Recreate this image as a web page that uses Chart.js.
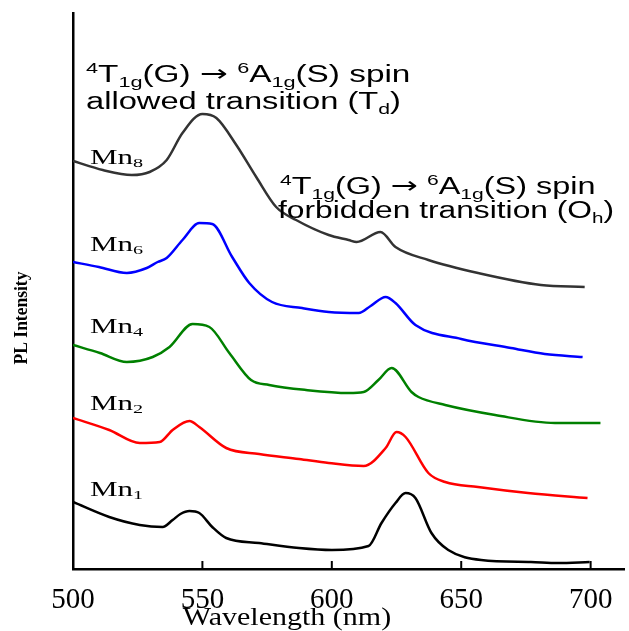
<!DOCTYPE html>
<html>
<head>
<meta charset="utf-8">
<script src="https://cdn.jsdelivr.net/npm/chart.js@4.4.1/dist/chart.umd.min.js"></script>
<style>
  html, body { margin: 0; padding: 0; background: #fff; }
</style>
</head>
<body>
<canvas id="chart" width="629" height="631"></canvas>
<script>
// wavelength (nm) and PL intensity (a.u., curves offset vertically)
const mn1Wl  = [500, 514, 525.8, 534.6, 538.5, 541.5, 545, 548.8, 553.8, 559.2, 571.9, 587.3, 600, 614.2, 619.2, 624.6, 628.5, 632.3, 638.5, 645, 657.7, 676.9, 687.3, 699.6];
const mn1Int = [67, 52, 44, 42, 49, 55, 58, 56, 42, 31, 26, 21, 19, 23, 46, 66, 76, 71, 36, 19, 9, 7, 6, 7];

const mn2Wl  = [500, 514, 525.8, 533.5, 538.5, 545, 548.8, 559.2, 571.9, 587.3, 598.8, 612.3, 620.8, 625, 628.5, 637.3, 643.8, 656.5, 675.8, 698.8];
const mn2Int = [151, 139, 126, 127, 139, 148, 142, 121, 115, 110, 106, 103, 121, 137, 132, 96, 87, 82, 76, 71];

const mn4Wl  = [500, 510.4, 520.8, 530.8, 537.3, 546.2, 552.7, 560.4, 568.8, 575.8, 590, 606.5, 612.3, 618, 623.1, 630.8, 633.5, 643.8, 663.1, 686.2, 703.8];
const mn4Int = [224, 216, 207, 212, 222, 245, 242, 216, 189, 184, 179, 176, 177, 189, 201, 177, 172, 164, 154, 146, 146];

const mn6Wl  = [500, 510, 520.8, 528.5, 532.7, 536.2, 542.3, 548.8, 553.8, 561.5, 568.1, 576.9, 588.5, 598.8, 610.4, 615, 620.8, 624.6, 632.3, 650, 669.2, 682.3, 696.9];
const mn6Int = [307, 302, 296, 301, 307, 311, 329, 346, 345, 312, 286, 267, 261, 257, 256, 263, 272, 266, 244, 230, 221, 215, 212];

const mn8Wl  = [500, 511.5, 522.7, 529.6, 536.2, 542.3, 550, 555.4, 563.1, 570.8, 578.5, 586.2, 598.8, 606.5, 609.6, 618.8, 624.6, 637.3, 656.5, 680.8, 697.7];
const mn8Int = [408, 399, 394, 397, 409, 436, 455, 451, 424, 392, 362, 349, 334, 329, 327, 337, 322, 309, 296, 284, 282];

const xTicks = [500, 550, 600, 650, 700];

// curve labels: [name, subscript, baseline value on the y scale]
const curveLabels = [
  ["Mn", "8", 405],
  ["Mn", "6", 318],
  ["Mn", "4", 236],
  ["Mn", "2", 159],
  ["Mn", "1", 73]
];

function pts(wl, val) {
  return wl.map((w, i) => ({ x: w, y: val[i] }));
}

function line(label, wl, val, color) {
  return {
    label: label,
    data: pts(wl, val),
    borderColor: color,
    borderWidth: 2.5,
    pointRadius: 0,
    fill: false,
    cubicInterpolationMode: "monotone"
  };
}

// draw a run of text pieces: n = normal, sup / sub = small raised / lowered, arrow = wider arrow glyph
function rich(ctx, x, y, parts, size, sx, family, subDy) {
  ctx.save();
  ctx.translate(x, y);
  ctx.scale(sx, 1);
  ctx.textBaseline = "alphabetic";
  ctx.textAlign = "left";
  let cx = 0;
  parts.forEach(p => {
    let s = size, dy = 0, fam = family;
    if (p[1] === "sup") { s = size * 0.65; dy = -size * 0.38; }
    if (p[1] === "sub") { s = size * 0.65; dy = subDy; }
    if (p[1] === "arrow") { fam = '"DejaVu Sans"'; dy = -1; }
    ctx.font = s + "px " + fam;
    ctx.fillText(p[0], cx, dy);
    cx += ctx.measureText(p[0]).width;
  });
  ctx.restore();
}

const extras = {
  id: "extras",
  afterDraw(chart) {
    const ctx = chart.ctx;
    const x = chart.scales.x, y = chart.scales.y;
    ctx.save();
    ctx.fillStyle = "#000";
    ctx.strokeStyle = "#000";

    // inward tick marks
    ctx.lineWidth = 2;
    xTicks.forEach(v => {
      const px = x.getPixelForValue(v);
      ctx.beginPath();
      ctx.moveTo(px, y.bottom);
      ctx.lineTo(px, y.bottom - 8);
      ctx.stroke();
    });

    // axis titles
    ctx.textAlign = "center";
    ctx.textBaseline = "middle";
    ctx.save();
    ctx.translate(287, 618);
    ctx.scale(1.2, 1);
    ctx.font = '25px "Liberation Serif"';
    ctx.fillText("Wavelength (nm)", 0, 0);
    ctx.restore();

    ctx.save();
    ctx.translate(22, 318);
    ctx.rotate(-Math.PI / 2);
    ctx.scale(0.92, 1);
    ctx.font = 'bold 19px "Liberation Serif"';
    ctx.fillText("PL Intensity", 0, 0);
    ctx.restore();

    // sample labels
    const serif = '"Liberation Serif"';
    curveLabels.forEach(l => {
      const py = y.getPixelForValue(l[2]);
      rich(ctx, 90, py, [[l[0], "n"], [l[1], "sub"]], 20, 1.55, serif, 2.5);
    });

    // transition annotations
    const sans = '"Liberation Sans"';
    const head = [["4", "sup"], ["T", "n"], ["1g", "sub"], ["(G) ", "n"], ["\u2192", "arrow"], [" ", "n"], ["6", "sup"], ["A", "n"], ["1g", "sub"], ["(S) spin", "n"]];
    rich(ctx, 86, 82, head, 23, 1.45, sans, 5);
    rich(ctx, 86, 109, [["allowed transition (T", "n"], ["d", "sub"], [")", "n"]], 23, 1.42, sans, 5);
    rich(ctx, 280, 194, head, 23, 1.41, sans, 5);
    rich(ctx, 278, 218, [["forbidden transition (O", "n"], ["h", "sub"], [")", "n"]], 23, 1.38, sans, 5);

    ctx.restore();
  }
};

new Chart(document.getElementById("chart").getContext("2d"), {
  type: "line",
  data: {
    datasets: [
      line("Mn1", mn1Wl, mn1Int, "#000000"),
      line("Mn2", mn2Wl, mn2Int, "#ff0000"),
      line("Mn4", mn4Wl, mn4Int, "#008000"),
      line("Mn6", mn6Wl, mn6Int, "#0000ff"),
      line("Mn8", mn8Wl, mn8Int, "#333333")
    ]
  },
  options: {
    responsive: false,
    animation: false,
    layout: { padding: { left: 73, top: 13, right: 2, bottom: 0 } },
    plugins: { legend: { display: false }, tooltip: { enabled: false } },
    scales: {
      x: {
        type: "linear",
        min: 500,
        max: 713,
        afterBuildTicks: s => { s.ticks = xTicks.map(v => ({ value: v })); },
        ticks: {
          color: "#000",
          padding: 16.5,
          font: { family: "Liberation Serif", size: 29, lineHeight: 1 }
        },
        grid: { drawOnChartArea: false, drawTicks: false },
        border: { color: "#000", width: 2.5 }
      },
      y: {
        min: 0,
        max: 556,
        ticks: { display: false },
        grid: { drawOnChartArea: false, drawTicks: false },
        border: { color: "#000", width: 2.5 }
      }
    }
  },
  plugins: [extras]
});
</script>
</body>
</html>
